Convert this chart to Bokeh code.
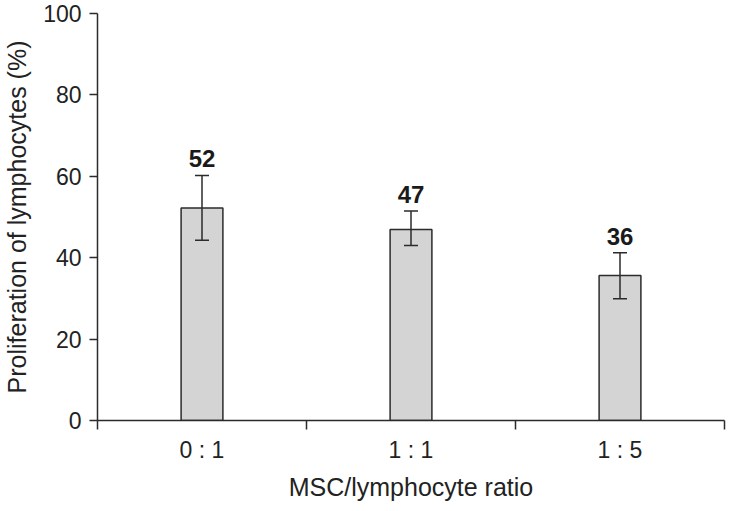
from bokeh.plotting import figure
from bokeh.models import (ColumnDataSource, Range1d, FixedTicker, LinearAxis,
                          Whisker, TeeHead, LabelSet)
from bokeh.core.properties import value
from bokeh.embed import file_html
from bokeh.resources import INLINE

# ---- data ----
categories = ["0 : 1", "1 : 1", "1 : 5"]
means = [52.2, 46.9, 35.6]
err_upper = [60.2, 51.5, 41.2]
err_lower = [44.3, 43.0, 29.9]
value_labels = ["52", "47", "36"]
y_ticks = [0, 20, 40, 60, 80, 100]

FONT = "Liberation Sans"
DARK = "#2b2b2b"

xs = list(range(len(categories)))
src = ColumnDataSource(dict(x=xs, mean=means, upper=err_upper,
                            lower=err_lower, label=value_labels))

p = figure(width=726, height=503, output_backend="svg", toolbar_location=None,
           x_range=Range1d(-0.5, len(categories) - 0.5), y_range=Range1d(0, 100),
           x_axis_type=None, y_axis_type=None,
           min_border_left=97, min_border_right=2, min_border_top=13,
           min_border_bottom=82)
p.outline_line_color = None
p.xgrid.visible = False
p.ygrid.visible = False
p.background_fill_color = "white"
p.border_fill_color = "white"

# bars
p.vbar(x="x", top="mean", bottom=0, width=0.2, source=src,
       fill_color="#d4d4d4", line_color=DARK, line_width=1.5)

# error bars
head_u = TeeHead(size=14, line_color=DARK, line_width=1.5)
head_l = TeeHead(size=14, line_color=DARK, line_width=1.5)
w = Whisker(base="x", upper="upper", lower="lower", source=src,
            line_color=DARK, line_width=1.5, upper_head=head_u,
            lower_head=head_l, level="annotation")
p.add_layout(w)

# value labels
labels = LabelSet(x="x", y="upper", text="label", source=src,
                  text_align="center", text_baseline="alphabetic", y_offset=8,
                  text_font=value(FONT), text_font_style="bold",
                  text_font_size="24px", text_color="#1a1a1a")
p.add_layout(labels)

# x axis: labels at centres, tick marks at category boundaries
bounds = [i - 0.5 for i in range(len(categories) + 1)]
xaxis = LinearAxis(ticker=FixedTicker(ticks=xs, minor_ticks=bounds),
                   major_label_overrides={i: c for i, c in zip(xs, categories)},
                   axis_label="MSC/lymphocyte ratio")
xaxis.major_tick_out = 0
xaxis.major_tick_in = 0
xaxis.minor_tick_out = 9
xaxis.minor_tick_in = 0
xaxis.minor_tick_line_color = DARK
xaxis.minor_tick_line_width = 1.5
xaxis.axis_line_color = DARK
xaxis.axis_line_width = 1.5
xaxis.major_label_text_font = FONT
xaxis.major_label_text_font_size = "23px"
xaxis.major_label_text_color = "#222222"
xaxis.major_label_standoff = 7
xaxis.axis_label_text_font = FONT
xaxis.axis_label_text_font_size = "25px"
xaxis.axis_label_text_font_style = "normal"
xaxis.axis_label_text_color = "#222222"
xaxis.axis_label_standoff = 7
p.add_layout(xaxis, "below")

# y axis
yaxis = LinearAxis(ticker=FixedTicker(ticks=y_ticks, minor_ticks=[]),
                   axis_label="Proliferation of lymphocytes (%)")
yaxis.major_tick_out = 8
yaxis.major_tick_in = 0
yaxis.major_tick_line_color = DARK
yaxis.major_tick_line_width = 1.5
yaxis.axis_line_color = DARK
yaxis.axis_line_width = 1.5
yaxis.major_label_text_font = FONT
yaxis.major_label_text_font_size = "23px"
yaxis.major_label_text_color = "#222222"
yaxis.major_label_standoff = 8
yaxis.axis_label_text_font = FONT
yaxis.axis_label_text_font_size = "25px"
yaxis.axis_label_text_font_style = "normal"
yaxis.axis_label_text_color = "#222222"
yaxis.axis_label_standoff = 9
p.add_layout(yaxis, "left")

open("out.html", "w").write(file_html(p, INLINE))
